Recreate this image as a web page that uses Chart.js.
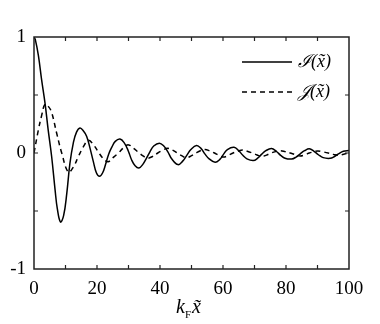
<!DOCTYPE html>
<html>
<head>
<meta charset="utf-8">
<script src="https://cdn.jsdelivr.net/npm/chart.js@4/dist/chart.umd.min.js"></script>
<style>
html,body{margin:0;padding:0;background:#fff;}
#wrap{width:380px;height:324px;}
</style>
</head>
<body>
<div id="wrap"><canvas id="c" width="380" height="324"></canvas></div>
<script>
// Solid curve I(x~)
const iX = [0,0.4,1.4,2.4,3.5,4.5,5.6,6.7,7.4,8.4,9.4,10.4,11.4,12.5,13.5,14.6,15.7,16.7,17.8,18.8,19.8,20.8,21.8,22.7,23.7,24.7,25.8,27.3,28.6,29.9,31.0,32.1,33.3,34.5,35.6,36.8,38.0,39.8,41.2,42.5,43.7,45.7,47.2,48.5,49.8,51.6,53.0,54.3,55.6,57.5,59.0,60.2,61.4,63.5,65.0,66.3,67.6,69.6,71.0,72.3,73.6,75.4,76.9,78.3,79.7,81.8,83.2,84.6,85.9,87.4,88.9,90.3,91.8,94.0,95.4,96.8,98.2,100];
const iY = [1.0,0.98,0.84,0.635,0.43,0.2,-0.03,-0.32,-0.48,-0.595,-0.54,-0.35,-0.09,0.09,0.18,0.215,0.19,0.145,0.04,-0.07,-0.17,-0.20,-0.17,-0.10,-0.01,0.05,0.10,0.12,0.09,0.02,-0.06,-0.11,-0.13,-0.10,-0.05,0.01,0.06,0.085,0.06,0.01,-0.05,-0.10,-0.07,-0.02,0.03,0.065,0.04,-0.01,-0.05,-0.08,-0.055,-0.01,0.03,0.05,0.02,-0.02,-0.05,-0.065,-0.045,-0.01,0.02,0.038,0.015,-0.02,-0.045,-0.052,-0.035,-0.005,0.02,0.036,0.015,-0.015,-0.04,-0.046,-0.03,-0.005,0.015,0.022];
// Dashed curve J(x~)
const jX = [0,1.4,2.4,3.5,4.6,5.6,7.2,8.8,10.9,12.5,14.1,15.6,17.3,18.9,20.4,21.9,23.5,25.1,26.8,28.4,30.0,31.6,33.2,34.6,36.0,37.6,39.3,40.9,42.5,44.0,45.5,47.0,48.4,49.9,51.4,52.8,54.3,55.8,57.3,58.7,60.2,61.7,63.2,64.7,66.2,67.7,69.3,70.8,72.3,73.8,75.3,76.7,78.1,79.7,81.3,82.9,84.5,86.0,87.4,88.8,90.1,91.7,93.4,95.0,96.7,98.3,100];
const jY = [0,0.2,0.32,0.42,0.40,0.35,0.17,0,-0.165,-0.12,-0.03,0.05,0.11,0.07,0.01,-0.045,-0.075,-0.04,0,0.045,0.07,0.04,0.005,-0.025,-0.045,-0.03,0,0.025,0.04,0.025,0,-0.025,-0.04,-0.025,0,0.02,0.03,0.018,0,-0.02,-0.035,-0.02,0,0.015,0.025,0.015,0,-0.017,-0.03,-0.018,0,0.012,0.02,0.012,0,-0.014,-0.025,-0.015,0,0.01,0.018,0.01,0,-0.012,-0.02,-0.01,0];
const xTickLabels = ['0','20','40','60','80','100'];
const yTickLabels = ['-1','0','1'];
const seriesNames = ['\u2110(x\u0303)', '\uD835\uDCA5(x\u0303)'];
const axisTitle = {k:'k', sub:'F', x:'x\u0303'};

const pts = (xs, ys) => xs.map((x, i) => ({x: x, y: ys[i]}));
const SERIF = '"Liberation Serif", "DejaVu Serif", serif';

const framePlugin = {
  id: 'frame',
  afterDraw(chart) {
    const ctx = chart.ctx, a = chart.chartArea;
    const xs = chart.scales.x, ys = chart.scales.y;
    ctx.save();
    ctx.strokeStyle = '#222';
    ctx.lineWidth = 1.5;
    ctx.strokeRect(a.left, a.top, a.right - a.left, a.bottom - a.top);
    ctx.lineWidth = 1.2;
    const tl = 4;
    ctx.beginPath();
    for (let v = 10; v < 100; v += 10) {
      const px = xs.getPixelForValue(v);
      ctx.moveTo(px, a.bottom); ctx.lineTo(px, a.bottom - tl);
      ctx.moveTo(px, a.top); ctx.lineTo(px, a.top + tl);
    }
    for (const v of [-0.5, 0, 0.5]) {
      const py = ys.getPixelForValue(v);
      ctx.moveTo(a.left, py); ctx.lineTo(a.left + tl, py);
      ctx.moveTo(a.right, py); ctx.lineTo(a.right - tl, py);
    }
    ctx.stroke();
    // legend
    const lx0 = 242, lx1 = 292;
    const rows = [{y: 62, dash: []}, {y: 92, dash: [5, 4]}];
    ctx.strokeStyle = '#000';
    ctx.lineWidth = 1.4;
    rows.forEach((r, i) => {
      ctx.setLineDash(r.dash);
      ctx.beginPath(); ctx.moveTo(lx0, r.y); ctx.lineTo(lx1, r.y); ctx.stroke();
      ctx.setLineDash([]);
      ctx.fillStyle = '#000';
      ctx.font = 'italic 18px ' + SERIF;
      ctx.textBaseline = 'middle';
      ctx.textAlign = 'left';
      ctx.fillText(seriesNames[i], 298, r.y);
    });
    // x axis title
    ctx.textBaseline = 'alphabetic';
    ctx.font = 'italic 20px ' + SERIF;
    let cx = 176;
    ctx.fillText(axisTitle.k, cx, 313);
    cx += ctx.measureText(axisTitle.k).width;
    ctx.font = '11px ' + SERIF;
    ctx.fillText(axisTitle.sub, cx, 318);
    cx += ctx.measureText(axisTitle.sub).width + 1;
    ctx.font = 'italic 20px ' + SERIF;
    ctx.fillText(axisTitle.x, cx, 313);
    ctx.restore();
  }
};

new Chart(document.getElementById('c'), {
  type: 'scatter',
  data: {
    datasets: [
      {label: seriesNames[0], data: pts(iX, iY), showLine: true, borderColor: '#000', borderWidth: 1.5,
       pointRadius: 0, tension: 0.4, fill: false},
      {label: seriesNames[1], data: pts(jX, jY), showLine: true, borderColor: '#000', borderWidth: 1.5,
       borderDash: [5, 4], pointRadius: 0, tension: 0.4, fill: false}
    ]
  },
  options: {
    responsive: false,
    animation: false,
    layout: {padding: {top: 37, right: 31, left: 0, bottom: 0}},
    plugins: {legend: {display: false}, tooltip: {enabled: false}},
    scales: {
      x: {
        type: 'linear', min: 0, max: 100,
        afterFit(s) { s.height = 55; },
        grid: {display: false, drawTicks: false}, border: {display: false},
        ticks: {stepSize: 20, padding: 9, color: '#000', maxRotation: 0,
          font: {family: SERIF, size: 19},
          callback: (v) => xTickLabels.includes(String(v)) ? String(v) : ''}
      },
      y: {
        type: 'linear', min: -1, max: 1,
        afterFit(s) { s.width = 34; },
        grid: {display: false, drawTicks: false}, border: {display: false},
        ticks: {stepSize: 1, padding: 8, color: '#000',
          font: {family: SERIF, size: 19},
          callback: (v) => yTickLabels.includes(String(v)) ? String(v) : ''}
      }
    }
  },
  plugins: [framePlugin]
});
</script>
</body>
</html>
